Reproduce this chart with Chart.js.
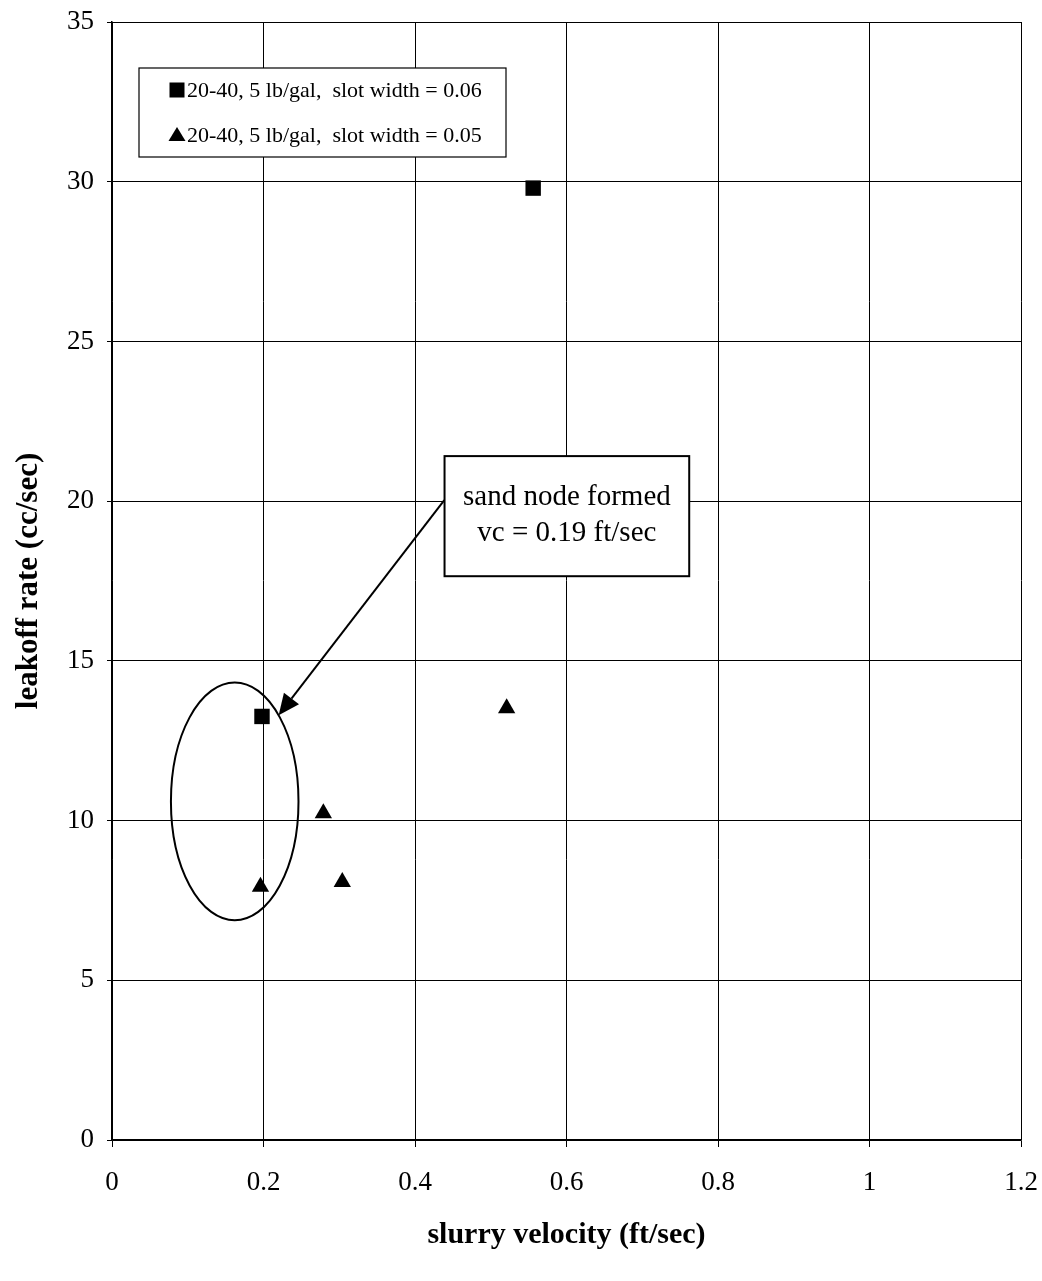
<!DOCTYPE html>
<html>
<head>
<meta charset="utf-8">
<script src="https://cdn.jsdelivr.net/npm/chart.js@4.4.1/dist/chart.umd.min.js"></script>
<style>
  html, body { margin: 0; padding: 0; background: #fff; }
  #wrap { width: 1042px; height: 1281px; }
</style>
</head>
<body>
<div id="wrap"><canvas id="c" width="1042" height="1281"></canvas></div>
<script>
// ---- data ----
const seriesLabels = [
  '20-40, 5 lb/gal,  slot width = 0.06',
  '20-40, 5 lb/gal,  slot width = 0.05'
];
const squareX = [0.556, 0.198];
const squareY = [29.8, 13.26];
const triangleX = [0.521, 0.279, 0.304, 0.196];
const triangleY = [13.52, 10.23, 8.08, 7.93];
const xTickValues = [0, 0.2, 0.4, 0.6, 0.8, 1, 1.2];
const yTickValues = [0, 5, 10, 15, 20, 25, 30, 35];
const xTitle = 'slurry velocity (ft/sec)';
const yTitle = 'leakoff rate (cc/sec)';
const noteLines = ['sand node formed', 'vc = 0.19 ft/sec'];

// ---- annotation geometry (data coordinates) ----
const annot = {
  ellipse: { cx: 0.162, cy: 10.60, rx: 0.0842, ry: 3.72 },
  box: { x1: 0.439, x2: 0.762, y1: 21.41, y2: 17.65 },
  arrow: { fromX: 0.4387, fromY: 20.03, toX: 0.220, toY: 13.30 }
};

const toPts = (xs, ys) => xs.map((x, i) => ({ x: x, y: ys[i] }));
const SERIF = '"Liberation Serif", "Times New Roman", serif';

const annotationPlugin = {
  id: 'annot',
  afterDatasetsDraw(chart) {
    const ctx = chart.ctx;
    const xs = chart.scales.x, ys = chart.scales.y;
    const px = v => xs.getPixelForValue(v);
    const py = v => ys.getPixelForValue(v);
    ctx.save();
    ctx.strokeStyle = '#000';
    ctx.fillStyle = '#000';
    // ellipse
    const e = annot.ellipse;
    const ecx = px(e.cx), ecy = py(e.cy);
    const erx = px(e.cx + e.rx) - ecx, ery = ecy - py(e.cy + e.ry);
    ctx.lineWidth = 2;
    ctx.beginPath();
    ctx.ellipse(ecx, ecy, erx, ery, 0, 0, Math.PI * 2);
    ctx.stroke();
    // arrow
    const a = annot.arrow;
    const x0 = px(a.fromX), y0 = py(a.fromY), x1 = px(a.toX), y1 = py(a.toY);
    const ang = Math.atan2(y1 - y0, x1 - x0);
    const hl = 21, hw = 9.5;
    const bx = x1 - hl * Math.cos(ang), by = y1 - hl * Math.sin(ang);
    ctx.lineWidth = 2;
    ctx.beginPath();
    ctx.moveTo(x0, y0);
    ctx.lineTo(bx, by);
    ctx.stroke();
    ctx.beginPath();
    ctx.moveTo(x1, y1);
    ctx.lineTo(bx + hw * Math.sin(ang), by - hw * Math.cos(ang));
    ctx.lineTo(bx - hw * Math.sin(ang), by + hw * Math.cos(ang));
    ctx.closePath();
    ctx.fill();
    // text box
    const b = annot.box;
    const bx1 = px(b.x1), bx2 = px(b.x2), by1 = py(b.y1), by2 = py(b.y2);
    ctx.fillStyle = '#fff';
    ctx.fillRect(bx1, by1, bx2 - bx1, by2 - by1);
    ctx.lineWidth = 2;
    ctx.strokeRect(bx1, by1, bx2 - bx1, by2 - by1);
    ctx.fillStyle = '#000';
    ctx.font = '29px ' + SERIF;
    ctx.textAlign = 'center';
    ctx.textBaseline = 'middle';
    const cx = (bx1 + bx2) / 2;
    ctx.fillText(noteLines[0], cx, by1 + 41);
    ctx.fillText(noteLines[1], cx, by1 + 77);
    ctx.restore();
  }
};

const legendPlugin = {
  id: 'boxLegend',
  afterDraw(chart) {
    const ctx = chart.ctx;
    const ca = chart.chartArea;
    const left = ca.left + 27, top = ca.top + 46, w = 367, h = 89;
    ctx.save();
    ctx.fillStyle = '#fff';
    ctx.fillRect(left, top, w, h);
    ctx.strokeStyle = '#000';
    ctx.lineWidth = 1.2;
    ctx.strokeRect(left, top, w, h);
    ctx.fillStyle = '#000';
    ctx.font = '22px ' + SERIF;
    ctx.textAlign = 'left';
    ctx.textBaseline = 'middle';
    chart.data.datasets.forEach((ds, i) => {
      const cy = top + 22 + i * 45;
      const mx = left + 38;
      if (ds.pointStyle === 'rect') {
        ctx.fillRect(mx - 7.5, cy - 7.5, 15, 15);
      } else {
        ctx.beginPath();
        ctx.moveTo(mx, cy - 8);
        ctx.lineTo(mx + 8.5, cy + 6);
        ctx.lineTo(mx - 8.5, cy + 6);
        ctx.closePath();
        ctx.fill();
      }
      ctx.fillText(ds.label, left + 48, cy + 1);
    });
    ctx.restore();
  }
};

new Chart(document.getElementById('c'), {
  type: 'scatter',
  data: {
    datasets: [
      {
        label: seriesLabels[0],
        data: toPts(squareX, squareY),
        pointStyle: 'rect',
        pointRadius: 10.9,
        pointHoverRadius: 10.9,
        backgroundColor: '#000',
        borderColor: '#000',
        borderWidth: 0
      },
      {
        label: seriesLabels[1],
        data: toPts(triangleX, triangleY),
        pointStyle: 'triangle',
        pointRadius: 10,
        pointHoverRadius: 10,
        backgroundColor: '#000',
        borderColor: '#000',
        borderWidth: 0
      }
    ]
  },
  options: {
    responsive: false,
    animation: false,
    events: [],
    layout: { padding: { top: 22, right: 21, bottom: 0, left: 0 } },
    plugins: { legend: { display: false }, tooltip: { enabled: false } },
    scales: {
      x: {
        type: 'linear',
        min: 0, max: 1.2,
        afterBuildTicks: s => { s.ticks = xTickValues.map(v => ({ value: v })); },
        afterFit: s => { s.height = 141; s.paddingLeft = 0; s.paddingRight = 0; },
        grid: { color: '#000', lineWidth: 1, tickLength: 7, drawTicks: true },
        border: { color: '#000', width: 1.5 },
        ticks: {
          color: '#000',
          font: { family: SERIF, size: 27 },
          padding: 20,
          maxRotation: 0,
          callback: v => String(v)
        },
        title: {
          display: true,
          text: xTitle,
          color: '#000',
          font: { family: SERIF, size: 30, weight: 'bold' },
          padding: { top: 0, bottom: 28 }
        }
      },
      y: {
        type: 'linear',
        min: 0, max: 35,
        afterBuildTicks: s => { s.ticks = yTickValues.map(v => ({ value: v })); },
        afterFit: s => { s.width = 112; s.paddingTop = 0; s.paddingBottom = 0; },
        grid: { color: '#000', lineWidth: 1, tickLength: 5, drawTicks: true },
        border: { color: '#000', width: 1.5 },
        ticks: {
          color: '#000',
          font: { family: SERIF, size: 27 },
          padding: 13,
          callback: v => String(v)
        },
        title: {
          display: true,
          text: yTitle,
          color: '#000',
          font: { family: SERIF, size: 31, weight: 'bold' },
          padding: { top: 10, bottom: 0 }
        }
      }
    }
  },
  plugins: [annotationPlugin, legendPlugin]
});
</script>
</body>
</html>
